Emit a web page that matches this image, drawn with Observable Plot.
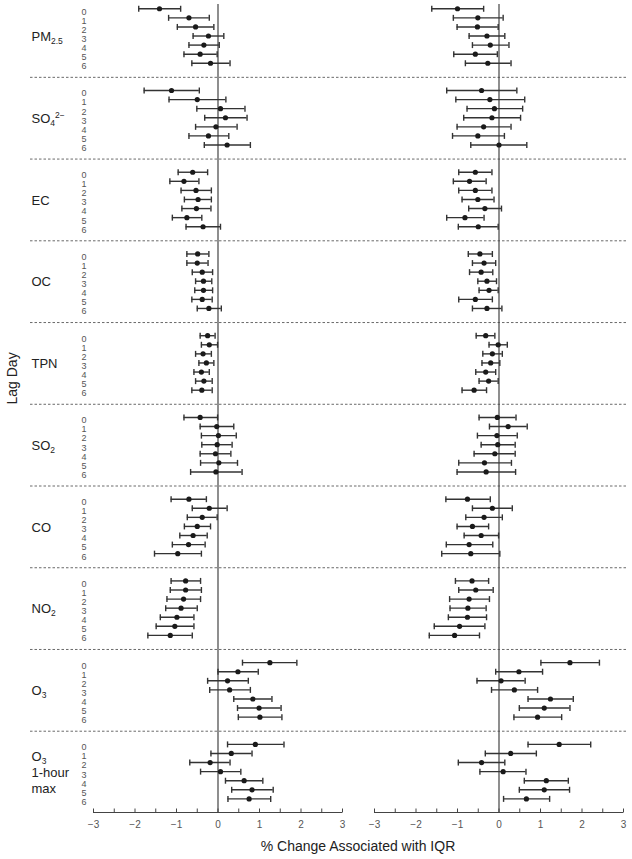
<!DOCTYPE html>
<html><head><meta charset="utf-8">
<script src="https://cdn.jsdelivr.net/npm/d3@7"></script>
<script src="https://cdn.jsdelivr.net/npm/@observablehq/plot@0.6"></script>
<style>
body{margin:0;background:#fff;font-family:'Liberation Sans',Arial,sans-serif;}
#chart{width:632px;}
#chart svg{display:block;}
#xtitle{width:632px;box-sizing:border-box;padding-left:84px;text-align:center;font-size:14px;color:#222;line-height:16px;margin-top:3px;}
</style></head><body>
<div id="chart"></div>
<div id="xtitle">% Change Associated with IQR</div>
<script>
// Pollutant groups (markup: _ = subscript, ^ = superscript)
const pollutants = ["PM_2.5", "SO_4^2−", "EC", "OC", "TPN", "SO_2", "CO", "NO_2", "O_3", "O_3\n1-hour\nmax"];
const lagDays = [0, 1, 2, 3, 4, 5, 6];
const panels = ["A", "B"];
const xTicks = [-3, -2, -1, 0, 1, 2, 3];
const xMinorTicks = [-3, -2.5, -2, -1.5, -1, -0.5, 0, 0.5, 1, 1.5, 2, 2.5, 3];

// Left panel: estimate, lower, upper (rows = pollutants, cols = lag 0..6)
const estA = [
  [-1.41, -0.70, -0.54, -0.23, -0.34, -0.43, -0.18],
  [-1.12, -0.50, 0.06, 0.18, -0.05, -0.23, 0.22],
  [-0.61, -0.82, -0.53, -0.48, -0.52, -0.75, -0.36],
  [-0.49, -0.50, -0.38, -0.35, -0.35, -0.38, -0.22],
  [-0.25, -0.21, -0.36, -0.28, -0.40, -0.34, -0.39],
  [-0.43, -0.03, 0.01, -0.02, -0.06, 0.02, -0.05],
  [-0.70, -0.21, -0.38, -0.50, -0.60, -0.71, -0.97],
  [-0.78, -0.78, -0.83, -0.89, -0.99, -1.04, -1.15],
  [1.25, 0.48, 0.23, 0.28, 0.84, 0.99, 1.01],
  [0.90, 0.32, -0.19, 0.06, 0.63, 0.82, 0.75]
];
const lowA = [
  [-1.91, -1.19, -0.98, -0.60, -0.70, -0.82, -0.63],
  [-1.78, -1.18, -0.51, -0.32, -0.54, -0.70, -0.33],
  [-0.96, -1.16, -0.89, -0.81, -0.87, -1.10, -0.77],
  [-0.75, -0.75, -0.62, -0.54, -0.56, -0.63, -0.50],
  [-0.43, -0.40, -0.54, -0.46, -0.58, -0.54, -0.63],
  [-0.82, -0.43, -0.40, -0.39, -0.43, -0.42, -0.66],
  [-1.13, -0.62, -0.74, -0.81, -0.92, -1.10, -1.53],
  [-1.13, -1.15, -1.23, -1.26, -1.39, -1.49, -1.69],
  [0.59, 0.00, -0.25, -0.20, 0.38, 0.47, 0.49],
  [0.23, -0.17, -0.68, -0.42, 0.18, 0.33, 0.24]
];
const highA = [
  [-0.90, -0.21, -0.10, 0.14, 0.03, -0.02, 0.29],
  [-0.45, 0.19, 0.65, 0.70, 0.46, 0.26, 0.78],
  [-0.25, -0.46, -0.16, -0.16, -0.17, -0.39, 0.06],
  [-0.22, -0.24, -0.13, -0.15, -0.13, -0.14, 0.08],
  [-0.07, -0.01, -0.16, -0.10, -0.21, -0.14, -0.14],
  [-0.01, 0.38, 0.44, 0.34, 0.31, 0.47, 0.58],
  [-0.28, 0.22, -0.02, -0.18, -0.26, -0.31, -0.40],
  [-0.42, -0.40, -0.42, -0.50, -0.58, -0.58, -0.62],
  [1.90, 0.97, 0.73, 0.78, 1.30, 1.52, 1.54],
  [1.59, 0.82, 0.29, 0.55, 1.08, 1.33, 1.27]
];
// Right panel
const estB = [
  [-1.00, -0.51, -0.52, -0.29, -0.21, -0.57, -0.27],
  [-0.42, -0.22, -0.11, -0.17, -0.37, -0.51, 0.00],
  [-0.57, -0.71, -0.57, -0.51, -0.34, -0.82, -0.50],
  [-0.46, -0.36, -0.43, -0.29, -0.24, -0.57, -0.29],
  [-0.32, -0.02, -0.16, -0.20, -0.32, -0.25, -0.60],
  [-0.04, 0.22, -0.05, -0.03, -0.10, -0.35, -0.31],
  [-0.76, -0.16, -0.36, -0.64, -0.43, -0.72, -0.68],
  [-0.65, -0.56, -0.72, -0.75, -0.76, -0.95, -1.07],
  [1.71, 0.48, 0.05, 0.37, 1.24, 1.09, 0.93],
  [1.45, 0.28, -0.42, 0.10, 1.14, 1.09, 0.66]
];
const lowB = [
  [-1.62, -1.10, -1.01, -0.72, -0.64, -1.09, -0.81],
  [-1.26, -1.04, -0.77, -0.85, -1.01, -1.12, -0.68],
  [-0.97, -1.10, -0.97, -0.89, -0.73, -1.26, -0.98],
  [-0.74, -0.64, -0.71, -0.51, -0.48, -0.97, -0.64],
  [-0.55, -0.24, -0.39, -0.41, -0.56, -0.48, -0.89],
  [-0.48, -0.23, -0.52, -0.43, -0.60, -0.97, -1.01],
  [-1.28, -0.64, -0.80, -1.01, -0.84, -1.27, -1.38],
  [-1.05, -0.97, -1.19, -1.18, -1.22, -1.56, -1.68],
  [1.01, -0.08, -0.53, -0.18, 0.70, 0.49, 0.36],
  [0.70, -0.33, -0.98, -0.46, 0.61, 0.49, 0.11]
];
const highB = [
  [-0.37, 0.10, -0.02, 0.14, 0.24, -0.04, 0.29],
  [0.43, 0.62, 0.57, 0.52, 0.29, 0.13, 0.67],
  [-0.17, -0.31, -0.17, -0.12, 0.06, -0.36, -0.02],
  [-0.16, -0.08, -0.15, -0.06, -0.02, -0.16, 0.07],
  [-0.10, 0.20, 0.08, 0.02, -0.08, -0.02, -0.30],
  [0.41, 0.68, 0.44, 0.39, 0.39, 0.30, 0.40],
  [-0.21, 0.32, 0.08, -0.25, -0.01, -0.15, 0.02],
  [-0.25, -0.14, -0.23, -0.31, -0.30, -0.34, -0.47],
  [2.42, 1.05, 0.63, 0.93, 1.79, 1.71, 1.51],
  [2.21, 0.90, 0.14, 0.65, 1.67, 1.70, 1.22]
];

const groupStep = 9;
const rows = [];
panels.forEach((p, pi) => {
  const E = pi ? estB : estA, L = pi ? lowB : lowA, H = pi ? highB : highA;
  pollutants.forEach((name, g) => lagDays.forEach((lag, i) => {
    rows.push({panel: p, g, lag, pos: g * groupStep + lag, est: E[g][i], lo: L[g][i], hi: H[g][i]});
  }));
});
const labelRows = pollutants.map((name, g) => ({name, pos: g * groupStep + 3}));
const lagRows = [];
pollutants.forEach((name, g) => lagDays.forEach(lag => lagRows.push({lag, pos: g * groupStep + lag})));
const separators = d3.range(1, pollutants.length).map(g => g * groupStep - 1.45);
const yDomain = [-0.47, (pollutants.length - 1) * groupStep + lagDays.length - 1 + 1.5];
const tickRows = [];
panels.forEach(p => xMinorTicks.forEach(v => tickRows.push({panel: p, v})));

const capSymbol = {draw(ctx) { ctx.moveTo(0, -3); ctx.lineTo(0, 3); }};
const tickSymbol = {draw(ctx) { ctx.moveTo(0, 0); ctx.lineTo(0, -4); }};

const H = 835;
const chart = Plot.plot({
  width: 632,
  height: H,
  marginLeft: 93,
  marginRight: 9,
  marginTop: 4,
  marginBottom: H - 812,
  style: {fontFamily: "'Liberation Sans', Arial, sans-serif", fontSize: "10px", color: "#222", background: "#fff", overflow: "visible"},
  fx: {domain: panels, axis: null, paddingInner: 0.114, paddingOuter: 0},
  x: {domain: [-3, 3]},
  y: {domain: yDomain, reverse: true, axis: null},
  marks: [
    Plot.ruleY(separators, {y: d => d, fx: d => "A", insetLeft: -63, insetRight: -16, stroke: "#444", strokeWidth: 0.8, strokeDasharray: "2.5,2"}),
    Plot.ruleY(separators, {y: d => d, fx: d => "B", insetLeft: -16, insetRight: -4, stroke: "#444", strokeWidth: 0.8, strokeDasharray: "2.5,2"}),
    Plot.ruleX([0], {stroke: "#444", strokeWidth: 1.2}),
    Plot.ruleY([yDomain[1]], {stroke: "#444", strokeWidth: 1.2}),
    Plot.dot(tickRows, {x: "v", fx: "panel", frameAnchor: "bottom", symbol: tickSymbol, stroke: "#444", strokeWidth: 1, fill: "none"}),
    Plot.axisX({ticks: xTicks, tickSize: 0, tickPadding: 8, fontSize: 10, fill: "#555", label: null,
      tickFormat: d => (d < 0 ? "\u2212" : "") + Math.abs(d)}),
    Plot.ruleY(rows, {y: "pos", x1: "lo", x2: "hi", fx: "panel", stroke: "#333", strokeWidth: 1.4}),
    Plot.dot(rows, {x: "lo", y: "pos", fx: "panel", symbol: capSymbol, stroke: "#333", strokeWidth: 1.4, fill: "none"}),
    Plot.dot(rows, {x: "hi", y: "pos", fx: "panel", symbol: capSymbol, stroke: "#333", strokeWidth: 1.4, fill: "none"}),
    Plot.dot(rows, {x: "est", y: "pos", fx: "panel", r: 2.6, fill: "#1a1a1a", stroke: "none"}),
    Plot.text(labelRows, {text: "name", y: "pos", fx: d => "A", frameAnchor: "left", dx: -62, textAnchor: "start", fontSize: 13, lineHeight: 1.22, fill: "#222"}),
    Plot.text(lagRows, {text: d => String(d.lag), y: "pos", fx: d => "A", frameAnchor: "left", dx: -12, dy: 3, fontSize: 9, fill: "#555"}),
    Plot.text(["Lag Day"], {fx: d => "A", frameAnchor: "left", dx: -81, dy: -4, rotate: -90, fontSize: 14, fill: "#222"})
  ]
});

// Render _sub and ^sup markup as real sub/superscript tspans
function richText(svg) {
  d3.select(svg).selectAll("text").each(function() {
    const nodes = this.querySelector("tspan") ? Array.from(this.querySelectorAll("tspan")) : [this];
    nodes.forEach(node => {
      const s = node.textContent;
      if (!/[_^]/.test(s)) return;
      node.textContent = "";
      for (const m of s.matchAll(/([_^])([^_^]+)|([^_^]+)/g)) {
        const t = document.createElementNS("http://www.w3.org/2000/svg", "tspan");
        if (m[3]) t.textContent = m[3];
        else {
          t.textContent = m[2];
          t.setAttribute("font-size", "8.5");
          t.setAttribute("style", "baseline-shift:" + (m[1] === "_" ? "-2.5px" : "5px"));
        }
        node.appendChild(t);
      }
    });
  });
}
richText(chart);
document.getElementById("chart").appendChild(chart);
</script>
</body></html>
